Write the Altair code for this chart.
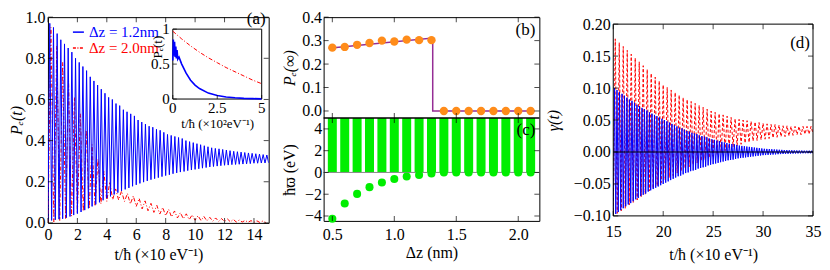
import altair as alt
import pandas as pd

FONT = "Liberation Serif"
BLUE = "#0000ff"
RED = "#ff0000"
ORANGE = "#ff8c1a"
PURPLE = "#952d95"
GREEN = "#00ee00"

# ---------------- panel (a): P_e(t) ----------------
# Δz = 1.2 nm : oscillation maxima (t = 0.125 + 0.25k) and minima (t = 0.25k)
a_blue_step = 0.25
a_blue_max_t0 = 0.125
a_blue_max = [0.97, 0.95, 0.92, 0.89, 0.87, 0.85, 0.83, 0.80, 0.78, 0.76, 0.74, 0.71,
              0.69, 0.67, 0.65, 0.63, 0.61, 0.60, 0.58, 0.57, 0.55, 0.54, 0.53, 0.52,
              0.50, 0.49, 0.48, 0.47, 0.465, 0.455, 0.45, 0.44, 0.43, 0.425, 0.42, 0.415,
              0.41, 0.40, 0.395, 0.39, 0.385, 0.38, 0.375, 0.37, 0.365, 0.362, 0.36, 0.357,
              0.354, 0.351, 0.348, 0.346, 0.344, 0.342, 0.34, 0.338, 0.336, 0.334, 0.332, 0.33]
a_blue_min_t0 = 0.0
a_blue_min = [0.01, 0.012, 0.015, 0.018, 0.02, 0.025, 0.031, 0.038, 0.045, 0.053, 0.062, 0.071,
              0.08, 0.09, 0.10, 0.11, 0.12, 0.129, 0.138, 0.147, 0.155, 0.163, 0.17, 0.178,
              0.185, 0.192, 0.198, 0.204, 0.21, 0.215, 0.22, 0.225, 0.23, 0.234, 0.239, 0.243,
              0.247, 0.25, 0.254, 0.257, 0.26, 0.263, 0.266, 0.269, 0.272, 0.274, 0.276, 0.278,
              0.28, 0.281, 0.283, 0.284, 0.285, 0.286, 0.287, 0.288, 0.29, 0.29, 0.291, 0.291, 0.292]
# Δz = 2.0 nm : maxima (t = 0.2 + 0.4k) and minima (t = 0.4k)
a_red_step = 0.4
a_red_max_t0 = 0.2
a_red_max = [0.95, 0.86, 0.78, 0.69, 0.61, 0.53, 0.45, 0.38, 0.31, 0.25, 0.2, 0.165, 0.155,
             0.143, 0.131, 0.119, 0.107, 0.095, 0.085, 0.075, 0.066, 0.058, 0.05, 0.044, 0.039,
             0.035, 0.031, 0.027, 0.024, 0.021, 0.019, 0.017, 0.014, 0.012, 0.011, 0.01, 0.009]
a_red_min_t0 = 0.0
a_red_min = [0.0, 0.004, 0.011, 0.021, 0.033, 0.045, 0.057, 0.069, 0.081, 0.093, 0.105, 0.113,
             0.112, 0.104, 0.092, 0.08, 0.068, 0.059, 0.051, 0.043, 0.035, 0.029, 0.024, 0.02,
             0.016, 0.013, 0.011, 0.01, 0.008, 0.007, 0.006, 0.005, 0.004, 0.004, 0.003, 0.003,
             0.002, 0.002]

# inset of (a), t in units of 10^2 eV^-1
in_red_t = [0, 0.5, 1.0, 1.5, 2.0, 2.5, 3.0, 3.5, 4.0, 4.5, 5.0]
in_red_p = [0.97, 0.86, 0.76, 0.67, 0.59, 0.52, 0.45, 0.39, 0.33, 0.27, 0.22]
in_blue_t = [0, 0.03, 0.06, 0.1, 0.13, 0.17, 0.2, 0.24, 0.28, 0.35, 0.5, 0.75, 1.0, 1.25,
             1.5, 2.0, 2.5, 3.0, 3.5, 4.0, 4.5, 5.0]
in_blue_p = [0.55, 0.85, 0.62, 0.82, 0.6, 0.75, 0.58, 0.7, 0.57, 0.6, 0.5, 0.37, 0.27, 0.2,
             0.15, 0.085, 0.05, 0.03, 0.018, 0.01, 0.006, 0.003]

# ---------------- panels (b), (c) ----------------
dz = [0.5, 0.6, 0.7, 0.8, 0.9, 1.0, 1.1, 1.2, 1.3, 1.4, 1.5, 1.6, 1.7, 1.8, 1.9, 2.0, 2.1]
b_pinf = [0.270, 0.273, 0.282, 0.290, 0.300, 0.296, 0.304, 0.302, 0.302,
          0, 0, 0, 0, 0, 0, 0, 0]
b_line_dz = [0.47, 1.31, 1.31, 2.13]
b_line_p = [0.267, 0.311, 0.0, 0.0]
c_bar_bottom = [0] * 17
c_bar_top = [5.0] * 17
c_omega = [-4.25, -2.85, -1.97, -1.35, -0.93, -0.6, -0.38, -0.23, -0.1,
           0, 0, 0, 0, 0, 0, 0, 0]

# ---------------- panel (d): gamma(t) ----------------
d_blue_step = 0.25
d_blue_t0 = 15.0
d_blue_amp = [0.100, 0.097, 0.094, 0.091, 0.088, 0.085, 0.082, 0.080, 0.077, 0.074, 0.072, 0.069,
              0.067, 0.065, 0.062, 0.060, 0.058, 0.056, 0.054, 0.052, 0.050, 0.048, 0.046, 0.044,
              0.042, 0.040, 0.038, 0.037, 0.035, 0.033, 0.032, 0.030, 0.029, 0.028, 0.026, 0.025,
              0.024, 0.023, 0.021, 0.020, 0.019, 0.018, 0.017, 0.016, 0.015, 0.014, 0.013, 0.0125,
              0.012, 0.011, 0.010, 0.0095, 0.009, 0.0085, 0.008, 0.0075, 0.007, 0.0065, 0.006, 0.0055,
              0.005, 0.0048, 0.0045, 0.0043, 0.004, 0.0038, 0.0035, 0.0033, 0.003, 0.003, 0.0028, 0.0027,
              0.0025, 0.0024, 0.0023, 0.0022, 0.002, 0.002, 0.002, 0.002, 0.002]
d_red_step = 0.4
d_red_max_t0 = 15.2
d_red_max = [0.177, 0.171, 0.165, 0.159, 0.153, 0.147, 0.141, 0.135, 0.129, 0.123, 0.117, 0.111,
             0.105, 0.101, 0.097, 0.093, 0.089, 0.085, 0.082, 0.079, 0.076, 0.073, 0.070, 0.067,
             0.064, 0.062, 0.060, 0.058, 0.056, 0.054, 0.052, 0.051, 0.050, 0.049, 0.048, 0.047,
             0.046, 0.045, 0.044, 0.043, 0.043, 0.042, 0.041, 0.041, 0.040, 0.040, 0.040, 0.040,
             0.040, 0.040]
d_red_min_t0 = 15.0
d_red_min = [-0.100, -0.096, -0.092, -0.088, -0.083, -0.079, -0.075, -0.070, -0.066, -0.061,
             -0.057, -0.053, -0.048, -0.044, -0.040, -0.037, -0.033, -0.030, -0.026, -0.023,
             -0.020, -0.017, -0.014, -0.012, -0.009, -0.007, -0.004, -0.001, 0.002, 0.005,
             0.008, 0.010, 0.012, 0.014, 0.015, 0.017, 0.018, 0.019, 0.020, 0.021, 0.022,
             0.023, 0.024, 0.024, 0.025, 0.026, 0.027, 0.027, 0.028, 0.028, 0.029]

# tick values / labels
a_xticks = [0, 2, 4, 6, 8, 10, 12, 14]
a_yticks = [0, 0.2, 0.4, 0.6, 0.8, 1.0]
in_xticks = [0, 2.5, 5]
in_xlabels = ["0", "2.5", "5"]
in_yticks = [0, 0.5, 1]
in_ylabels = ["0", "0.5", "1"]
bc_xticks = [0.5, 1.0, 1.5, 2.0]
b_yticks = [0, 0.1, 0.2, 0.3, 0.4]
c_yticks = [-4, -2, 0, 2, 4]
d_xticks = [15, 20, 25, 30, 35]
d_yticks = [-0.1, -0.05, 0, 0.05, 0.1, 0.15, 0.2]

# ---------------- layout sizes ----------------
WA, HA = 221, 206
WB, HB, HBC = 216, 101, 204
WD, HD, DTOP = 200, 199, 7

one = pd.DataFrame({"k": [0]})


def zigzag(lo_t0, lo, hi_t0, hi, step):
    t = [lo_t0 + i * step for i in range(len(lo))] + [hi_t0 + i * step for i in range(len(hi))]
    return pd.DataFrame({"t": t, "v": list(lo) + list(hi)}).sort_values("t").reset_index(drop=True)


def txt(s, x, y, size=17, color="black", align="center", angle=0):
    return alt.Chart(one).mark_text(text=s, font=FONT, fontSize=size, color=color, align=align,
                                    baseline="middle", angle=angle).encode(x=alt.value(x), y=alt.value(y))


def frame_ticks(xv, yv, sx, sy, axx, axy, xt_pix, yt_pix, L=5):
    out = []
    dfx = pd.DataFrame({"v": xv})
    dfy = pd.DataFrame({"v": yv})
    for yp in xt_pix:
        out.append(alt.Chart(dfx).mark_tick(orient="vertical", size=L, thickness=1, color="black")
                   .encode(x=alt.X("v:Q", scale=sx, axis=axx), y=alt.value(yp)))
    for xp in yt_pix:
        out.append(alt.Chart(dfy).mark_tick(orient="horizontal", size=L, thickness=1, color="black")
                   .encode(y=alt.Y("v:Q", scale=sy, axis=axy), x=alt.value(xp)))
    return out


# ---------------- panel (a) ----------------
sxa = alt.Scale(domain=[0, 15], nice=False, zero=False)
sya = alt.Scale(domain=[0, 1], nice=False, zero=False)
sxi = alt.Scale(domain=[0, 5], range=[125, 214], nice=False, zero=False)
syi = alt.Scale(domain=[0, 1], range=[82, 12], nice=False, zero=False)
ax_a_x = alt.Axis(values=a_xticks, format="d", title="t/ħ (×10 eV⁻¹)", labelPadding=4, titlePadding=4)
ax_a_y = alt.Axis(values=a_yticks, format=".1f", title="Pₑ(t)", titleFontStyle="italic",
                  labelPadding=3, titlePadding=0)

df_blue_a = zigzag(a_blue_min_t0, a_blue_min, a_blue_max_t0, a_blue_max, a_blue_step)
df_red_a = zigzag(a_red_min_t0, a_red_min, a_red_max_t0, a_red_max, a_red_step)

red_a = alt.Chart(df_red_a).mark_line(color=RED, strokeWidth=1, strokeDash=[4, 2, 1, 2], clip=True).encode(
    x=alt.X("t:Q", scale=sxa, axis=ax_a_x), y=alt.Y("v:Q", scale=sya, axis=ax_a_y))
blue_a = alt.Chart(df_blue_a).mark_line(color=BLUE, strokeWidth=1, clip=True).encode(
    x=alt.X("t:Q", scale=sxa, axis=ax_a_x), y=alt.Y("v:Q", scale=sya, axis=ax_a_y))
leg = [
    alt.Chart(one).mark_rule(color=BLUE, strokeWidth=1.5).encode(x=alt.value(25), x2=alt.value(36), y=alt.value(15)),
    alt.Chart(one).mark_rule(color=RED, strokeWidth=1.5, strokeDash=[3, 1.5, 1, 1.5]).encode(
        x=alt.value(25), x2=alt.value(36), y=alt.value(31)),
    txt("Δz = 1.2nm", 41, 15, size=15, color=BLUE, align="left"),
    txt("Δz = 2.0nm", 41, 31, size=15, color=RED, align="left"),
    txt("(a)", 218, 2, size=17, align="right"),
]
main_a = alt.layer(red_a, blue_a,
                   *frame_ticks(a_xticks, a_yticks, sxa, sya, ax_a_x, ax_a_y, [HA - 2.5, 2.5], [2.5, WA - 2.5]),
                   *leg)

in_frame = alt.Chart(pd.DataFrame({"x": [0], "x2": [5], "y": [0], "y2": [1]})).mark_rect(
    fill="white", stroke="black", strokeWidth=1).encode(
    x=alt.X("x:Q", scale=sxi, axis=None), x2="x2:Q",
    y=alt.Y("y:Q", scale=syi, axis=None), y2="y2:Q")
in_red = alt.Chart(pd.DataFrame({"t": in_red_t, "p": in_red_p})).mark_line(
    color=RED, strokeWidth=1, strokeDash=[4, 2, 1, 2]).encode(
    x=alt.X("t:Q", scale=sxi, axis=None), y=alt.Y("p:Q", scale=syi, axis=None))
in_blue = alt.Chart(pd.DataFrame({"t": in_blue_t, "p": in_blue_p})).mark_line(
    color=BLUE, strokeWidth=1.6).encode(
    x=alt.X("t:Q", scale=sxi, axis=None), y=alt.Y("p:Q", scale=syi, axis=None))
in_xl = alt.Chart(pd.DataFrame({"v": in_xticks, "lab": in_xlabels})).mark_text(
    font=FONT, fontSize=15, baseline="top").encode(
    x=alt.X("v:Q", scale=sxi, axis=None), y=alt.value(84), text="lab:N")
in_yl = alt.Chart(pd.DataFrame({"v": in_yticks, "lab": in_ylabels})).mark_text(
    font=FONT, fontSize=15, align="right", baseline="middle").encode(
    y=alt.Y("v:Q", scale=syi, axis=None), x=alt.value(122), text="lab:N")
inset_a = alt.layer(in_frame, in_red, in_blue, in_xl, in_yl,
                    *frame_ticks(in_xticks, in_yticks, sxi, syi, None, None, [80], [127], L=4),
                    txt("t/ħ (×10²eV⁻¹)", 170, 107, size=13),
                    txt("Pₑ(t)", 110, 30, size=13, angle=270))

panel_a = alt.layer(main_a, inset_a).resolve_scale(x="independent", y="independent").properties(
    width=WA, height=HA)

# ---------------- panels (b) + (c) ----------------
sxbc = alt.Scale(domain=[0.47, 2.13], nice=False, zero=False)
syb = alt.Scale(domain=[-0.03, 0.4], range=[HB, 0], nice=False, zero=False)
syc = alt.Scale(domain=[-4.45, 5.0], range=[HBC, HB], nice=False, zero=False)
ax_bc_x = alt.Axis(values=bc_xticks, format=".1f", title="Δz (nm)", labelPadding=6, titlePadding=2)
ax_b_y = alt.Axis(values=b_yticks, format=".1f", title="Pₑ(∞)", titleFontStyle="italic",
                  orient="left", titlePadding=4)
ax_c_y = alt.Axis(values=c_yticks, format="d", title="ħϖ (eV)", orient="left", titlePadding=7)

df_bline = pd.DataFrame({"dz": b_line_dz, "p": b_line_p, "i": list(range(len(b_line_dz)))})
df_b = pd.DataFrame({"dz": dz, "p": b_pinf})
df_c = pd.DataFrame({"dz": dz, "base": c_bar_bottom, "top": c_bar_top, "w": c_omega})

b_line = alt.Chart(df_bline).mark_line(color=PURPLE, strokeWidth=1.5).encode(
    x=alt.X("dz:Q", scale=sxbc, axis=ax_bc_x),
    y=alt.Y("p:Q", scale=syb, axis=ax_b_y),
    order="i:Q")
b_pts = alt.Chart(df_b).mark_circle(size=70, color=ORANGE, opacity=1).encode(
    x=alt.X("dz:Q", scale=sxbc, axis=ax_bc_x), y=alt.Y("p:Q", scale=syb, axis=ax_b_y))
b_group = alt.layer(b_line, b_pts,
                    *frame_ticks(bc_xticks, b_yticks, sxbc, syb, ax_bc_x, ax_b_y, [HB - 2.5, 2.5], [2.5, WB - 2.5]),
                    txt("(b)", 212, 13, size=17, align="right"))

c_bars = alt.Chart(df_c).mark_bar(size=9, color=GREEN).encode(
    x=alt.X("dz:Q", scale=sxbc, axis=ax_bc_x),
    y=alt.Y("base:Q", scale=syc, axis=ax_c_y),
    y2="top:Q")
c_zero = alt.Chart(pd.DataFrame({"y": [0]})).mark_rule(color="#8a8a8a", strokeWidth=1).encode(
    y=alt.Y("y:Q", scale=syc, axis=ax_c_y))
c_pts = alt.Chart(df_c).mark_circle(size=65, color=GREEN, opacity=1).encode(
    x=alt.X("dz:Q", scale=sxbc, axis=ax_bc_x), y=alt.Y("w:Q", scale=syc, axis=ax_c_y))
c_group = alt.layer(c_bars, c_zero, c_pts,
                    *frame_ticks(bc_xticks, c_yticks, sxbc, syc, ax_bc_x, ax_c_y, [HBC - 2.5, HB + 2.5], [2.5, WB - 2.5]),
                    alt.Chart(one).mark_rule(color="black", strokeWidth=1.5).encode(
                        x=alt.value(0), x2=alt.value(WB), y=alt.value(HB)),
                    txt("(c)", 212, HB + 12, size=17, align="right"))

panel_bc = alt.layer(b_group, c_group).resolve_scale(y="independent").properties(width=WB, height=HBC)

# ---------------- panel (d) ----------------
sxd = alt.Scale(domain=[15, 35], nice=False, zero=False)
syd = alt.Scale(domain=[-0.1, 0.2], range=[HD, DTOP], nice=False, zero=False)
ax_d_x = alt.Axis(values=d_xticks, format="d", title="t/ħ (×10 eV⁻¹)", labelPadding=8, titlePadding=7)
ax_d_y = alt.Axis(values=d_yticks, format=".2f", title="γ(t)", titleFontStyle="italic",
                  labelPadding=3, titlePadding=12)

df_blue_d = zigzag(d_blue_t0, [-a for a in d_blue_amp], d_blue_t0 + d_blue_step / 2, d_blue_amp, d_blue_step)
df_red_d = zigzag(d_red_min_t0, d_red_min, d_red_max_t0, d_red_max, d_red_step)

red_d = alt.Chart(df_red_d).mark_line(color=RED, strokeWidth=1, strokeDash=[3, 2], clip=True).encode(
    x=alt.X("t:Q", scale=sxd, axis=ax_d_x), y=alt.Y("v:Q", scale=syd, axis=ax_d_y))
blue_d = alt.Chart(df_blue_d).mark_line(color=BLUE, strokeWidth=1, clip=True).encode(
    x=alt.X("t:Q", scale=sxd, axis=ax_d_x), y=alt.Y("v:Q", scale=syd, axis=ax_d_y))
d_zero = alt.Chart(pd.DataFrame({"y": [0]})).mark_rule(color="black", strokeWidth=1.2).encode(
    y=alt.Y("y:Q", scale=syd, axis=ax_d_y))
d_frame = alt.Chart(pd.DataFrame({"x": [15], "x2": [35], "y": [-0.1], "y2": [0.2]})).mark_rect(
    fill="transparent", stroke="black", strokeWidth=1).encode(
    x=alt.X("x:Q", scale=sxd, axis=ax_d_x), x2="x2:Q", y=alt.Y("y:Q", scale=syd, axis=ax_d_y), y2="y2:Q")
panel_d = alt.layer(red_d, blue_d, d_zero, d_frame,
                    *frame_ticks(d_xticks, d_yticks, sxd, syd, ax_d_x, ax_d_y, [HD - 2.5, DTOP + 2.5], [2.5, WD - 2.5]),
                    txt("(d)", 197, DTOP + 19, size=17, align="right")).properties(
    width=WD, height=HD, view=alt.ViewBackground(stroke="transparent"))


def spacer(w):
    return alt.Chart(one).mark_point(opacity=0).encode(x=alt.value(0), y=alt.value(0)).properties(
        width=w, height=1, view=alt.ViewBackground(stroke="transparent"))


chart = alt.hconcat(panel_a, spacer(55), panel_bc, spacer(74), panel_d, spacing=0, bounds="flush").properties(
    padding=0
).configure(
    font=FONT
).configure_axis(
    labelFont=FONT, titleFont=FONT, labelFontSize=16, titleFontSize=16, titleFontWeight="normal",
    labelColor="black", titleColor="black", domain=False, ticks=False, grid=False,
    labelPadding=2, labelFlush=False
).configure_view(stroke="black", strokeWidth=1)

chart.save("out.html", embed_options={"renderer": "svg", "actions": False})
